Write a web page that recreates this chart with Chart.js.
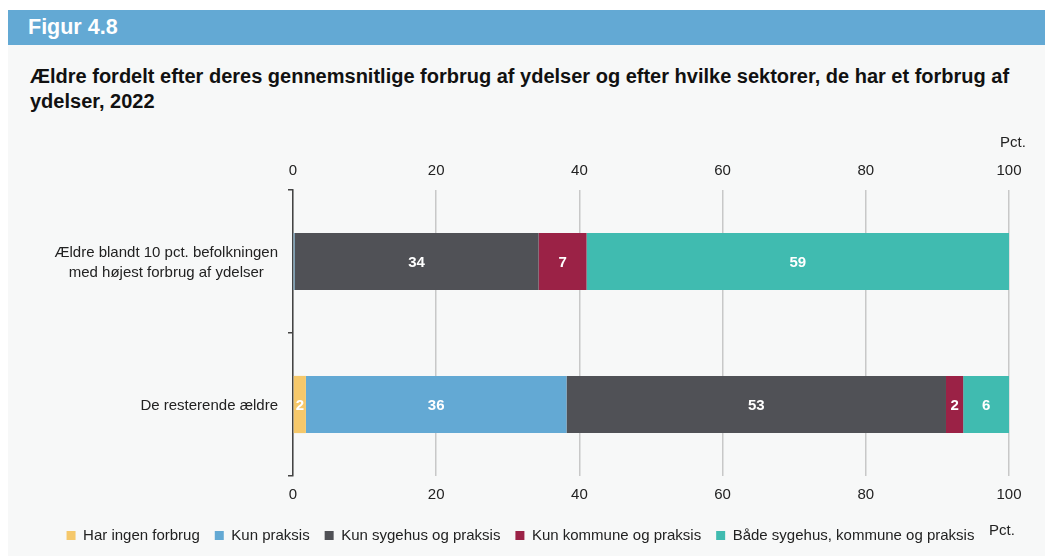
<!DOCTYPE html>
<html><head><meta charset="utf-8">
<script src="https://cdn.jsdelivr.net/npm/chart.js@4"></script>
<style>
html,body{margin:0;padding:0;background:#fff;width:1053px;height:556px;overflow:hidden;font-family:"Liberation Sans",Arial,sans-serif;}
#panel{position:absolute;left:8px;top:45px;width:1037px;height:511px;background:#f7f8f8;}
#hdr{position:absolute;left:8px;top:10px;width:1037px;height:35px;background:#63a9d4;color:#fff;font-weight:bold;font-size:21.5px;line-height:35px;padding-left:20px;box-sizing:border-box;}
#title{position:absolute;left:30px;top:64px;width:1015px;font-weight:bold;font-size:20px;line-height:25px;color:#111;white-space:nowrap;}
#c{position:absolute;left:0;top:0;}
</style></head>
<body>
<div id="panel"></div>
<div id="hdr">Figur 4.8</div>
<div id="title">Ældre fordelt efter deres gennemsnitlige forbrug af ydelser og efter hvilke sektorer, de har et forbrug af<br>ydelser, 2022</div>
<canvas id="c" width="1053" height="556"></canvas>
<script>
const categories = [["Ældre blandt 10 pct. befolkningen","med højest forbrug af ydelser"], ["De resterende ældre"]];
const seriesNames = ["Har ingen forbrug","Kun praksis","Kun sygehus og praksis","Kun kommune og praksis","Både sygehus, kommune og praksis"];
const harIngenForbrug = [0, 1.8];
const kunPraksis = [0.2, 36.4];
const kunSygehusOgPraksis = [34.1, 53.0];
const kunKommuneOgPraksis = [6.7, 2.4];
const baadeSygehusKommunePraksis = [59.0, 6.4];
const axisMin = 0, axisMax = 100, axisStep = 20;
const unitLabel = "Pct.";

const colors = ["#f5c86b","#63a9d4","#505156","#9b2246","#40bbb0"];
const seriesValues = [harIngenForbrug, kunPraksis, kunSygehusOgPraksis, kunKommuneOgPraksis, baadeSygehusKommunePraksis];
const FONT = '"Liberation Sans", Arial, sans-serif';

const extras = {
  id: 'extras',
  afterLayout(chart) {
    chart.legend.left += 12; chart.legend.right += 12;
  },
  afterDatasetsDraw(chart) {
    const ctx = chart.ctx;
    ctx.save();
    ctx.font = 'bold 15px ' + FONT;
    ctx.fillStyle = '#fff';
    ctx.textAlign = 'center';
    ctx.textBaseline = 'middle';
    chart.data.datasets.forEach((ds, di) => {
      const meta = chart.getDatasetMeta(di);
      meta.data.forEach((el, i) => {
        const v = ds.data[i];
        if (v >= 1) ctx.fillText(String(Math.round(v)), (el.x + el.base) / 2, el.y + 1);
      });
    });
    ctx.restore();
  },
  afterDraw(chart) {
    const ctx = chart.ctx, ca = chart.chartArea, y = chart.scales.y;
    ctx.save();
    ctx.font = '15px ' + FONT;
    ctx.fillStyle = '#222';
    ctx.textBaseline = 'middle';
    ctx.textAlign = 'center';
    ctx.fillText(unitLabel, ca.right + 4, 143);
    ctx.fillText(unitLabel, ca.right - 7, 531);
    categories.forEach((lab, i) => {
      const lines = Array.isArray(lab) ? lab : [lab];
      const w = Math.max(...lines.map(l => ctx.measureText(l).width));
      const cx = ca.left - 15 - w / 2;
      const yc = y.getPixelForValue(i) + 1;
      lines.forEach((l, k) => {
        ctx.fillText(l, cx, yc + (k - (lines.length - 1) / 2) * 20);
      });
    });
    ctx.restore();
  }
};

new Chart(document.getElementById('c'), {
  type: 'bar',
  data: {
    labels: categories,
    datasets: seriesNames.map((n, i) => ({
      label: n, data: seriesValues[i], backgroundColor: colors[i], borderWidth: 0,
      categoryPercentage: 1, barPercentage: 0.4
    }))
  },
  options: {
    indexAxis: 'y',
    responsive: false,
    devicePixelRatio: 1,
    animation: false,
    layout: { padding: { left: 8, right: 44, top: 160, bottom: 3 } },
    scales: {
      x: {
        position: 'bottom', stacked: true, min: axisMin, max: axisMax,
        ticks: { stepSize: axisStep, font: { size: 15, family: FONT }, color: '#222', padding: 10 },
        grid: { color: '#c8c8c8', lineWidth: 1.5, drawTicks: false },
        border: { display: false },
        afterFit(s) { s.height = 37; }
      },
      x2: {
        axis: 'x', type: 'linear', position: 'top', min: axisMin, max: axisMax,
        ticks: { stepSize: axisStep, font: { size: 15, family: FONT }, color: '#222', padding: 10 },
        grid: { display: false, drawTicks: false },
        border: { display: false },
        afterFit(s) { s.height = 30; }
      },
      y: {
        stacked: true, offset: true,
        ticks: { display: false },
        grid: { offset: true, drawOnChartArea: false, drawTicks: true, tickLength: 5, color: '#444', lineWidth: 1.5 },
        border: { display: true, color: '#444', width: 1.5 },
        afterFit(s) { s.width = 285; }
      }
    },
    plugins: {
      legend: {
        position: 'bottom',
        labels: { boxWidth: 9, boxHeight: 9, padding: 15, color: '#222', font: { size: 15, family: FONT } }
      },
      tooltip: { enabled: false }
    }
  },
  plugins: [extras]
});
</script>
</body></html>
